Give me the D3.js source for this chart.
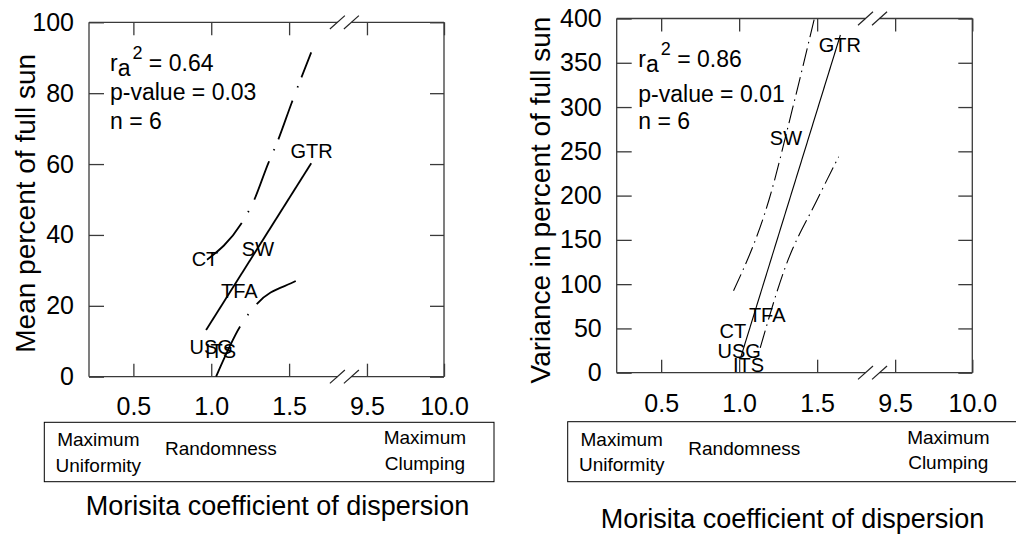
<!DOCTYPE html>
<html><head><meta charset="utf-8">
<script src="https://cdn.jsdelivr.net/npm/d3@7"></script>
<style>
body{margin:0;background:#fff}
svg{display:block}
text{font-family:"Liberation Sans",Arial,Helvetica,sans-serif;fill:#000}
</style>
</head><body>
<svg id="chart" width="1016" height="538"></svg>
<script>
// ---------------- data ----------------
const sites    = ["CT", "USG", "ITS", "TFA", "SW", "GTR"];
const morisita = [0.96, 1.00, 1.06, 1.18, 1.30, 1.645];
const meanSun  = [33.2, 8.5, 7.3, 24.2, 36.0, 63.7];
const varSun   = [47.3, 24.7, 9.0, 65.7, 265, 370.6];

const xTickValues = [0.5, 1.0, 1.5, 9.5, 10.0];
const xTickLabels = ["0.5", "1.0", "1.5", "9.5", "10.0"];
const meanTicks = [0, 20, 40, 60, 80, 100];
const varTicks  = [0, 50, 100, 150, 200, 250, 300, 350, 400];

// regression line and confidence bands
const meanFitX   = [0.967, 1.642];
const meanFitY   = [13.2, 60.2];
const meanUpperX = [0.973, 1.19, 1.271, 1.366, 1.425, 1.515, 1.642];
const meanUpperY = [33.0, 43.0, 49.4, 60.2, 66.3, 77.1, 91.5];
const meanLowerX = [1.031, 1.186, 1.292, 1.543, 1.61];
const meanLowerY = [0.0, 14.2, 20.5, 27.0, 28.5];

const varFitX   = [1.011, 1.649];
const varFitY   = [17.7, 381.4];
const varUpperX = [0.964, 1.191, 1.34, 1.485];
const varUpperY = [92.6, 195, 296.7, 402];
const varLowerX = [1.135, 1.297, 1.5, 1.638];
const varLowerY = [28.0, 119.7, 195.3, 243.9];

const meanStats = ["0.64", "0.03", "6"];
const varStats  = ["0.86", "0.01", "6"];

const yTitles = ["Mean percent of full sun", "Variance in percent of full sun"];
const xTitle = "Morisita coefficient of dispersion";
const boxLeftText  = ["Maximum", "Uniformity"];
const boxMidText   = "Randomness";
const boxRightText = ["Maximum", "Clumping"];

// ---------------- layout ----------------
const panels = [
  {L: 89, T: 22.3, R: 444, B: 376.7, yMax: 100, yTicks: meanTicks, yVals: meanSun,
   fit: [meanFitX, meanFitY], up: [meanUpperX, meanUpperY], lo: [meanLowerX, meanLowerY],
   stats: meanStats, statsX: 110, statsY: [71, 100, 129],
   yTitleX: 35, yTitleY: 203.3, xTitleX: 277.5, xTitleY: 515,
   box: {x: 44.3, y: 422.3, w: 449.7, h: 59.4}, tickPad: 21,
   lineW: 1.8, upDash: "51,12.5,1.5,12.5,41,12,1.5,10.5,41,14,1.5,9.5,41",
   loDash: "55.6,13.5,1.5,13,45.8,12,1.5,12,45", yTitle: yTitles[0]},
  {L: 616.7, T: 18.5, R: 972.3, B: 372.7, yMax: 400, yTicks: varTicks, yVals: varSun,
   fit: [varFitX, varFitY], up: [varUpperX, varUpperY], lo: [varLowerX, varLowerY],
   stats: varStats, statsX: 638.3, statsY: [66.5, 101.5, 128.5],
   yTitleX: 550, yTitleY: 200, xTitleX: 792.5, xTitleY: 528,
   box: {x: 567.7, y: 421.7, w: 450, h: 60}, tickPad: 21.5,
   lineW: 1.1, upDash: "18,5,1.5,5", loDash: "18,5,1.5,5", yTitle: yTitles[1]}
];

const svg = d3.select("#chart");
const frameColor = "#3a3a3a";

panels.forEach((p, i) => {
  const W = p.R - p.L;
  // broken axis: 0.215..2.0 linear, then 9.5..10.0 after the break
  const x = d3.scaleLinear()
    .domain([0.215, 2.0, 9.5, 10.0])
    .range([p.L, p.L + W * 0.783, p.L + W * 0.783, p.R]);
  const y = d3.scaleLinear().domain([0, p.yMax]).range([p.B, p.T]);

  const g = svg.append("g");

  const clipId = "clip" + i;
  svg.append("clipPath").attr("id", clipId)
    .append("rect").attr("x", p.L).attr("y", p.T).attr("width", W).attr("height", p.B - p.T);

  const left = g.append("g").attr("transform", `translate(${p.L},0)`)
    .call(d3.axisLeft(y).tickValues(p.yTicks).tickSizeInner(-15).tickSizeOuter(0).tickPadding(15));
  const right = g.append("g").attr("transform", `translate(${p.R},0)`)
    .call(d3.axisRight(y).tickValues(p.yTicks).tickSizeInner(-14).tickSizeOuter(0).tickFormat(""));
  const bottom = g.append("g").attr("transform", `translate(0,${p.B})`)
    .call(d3.axisBottom(x).tickValues(xTickValues).tickSizeInner(-13).tickSizeOuter(0).tickPadding(p.tickPad)
      .tickFormat((d, k) => xTickLabels[k]));
  const top = g.append("g").attr("transform", `translate(0,${p.T})`)
    .call(d3.axisTop(x).tickValues(xTickValues).tickSizeInner(-13).tickSizeOuter(0).tickFormat(""));
  [left, right, bottom, top].forEach(a => {
    a.select(".domain").remove();
    a.selectAll("line").attr("stroke", frameColor).attr("stroke-width", 1.3);
    a.selectAll("text").style("font-size", "25px").attr("fill", "#000");
  });

  // frame with broken x-axis
  const gapA = x(1.5) + 0.62 * (x(9.5) - x(1.5));
  const gapB = x(1.5) + 0.80 * (x(9.5) - x(1.5));
  const seg = (x1, y1, x2, y2, c, w) => g.append("line")
    .attr("x1", x1).attr("y1", y1).attr("x2", x2).attr("y2", y2)
    .attr("stroke", c).attr("stroke-width", w);
  seg(p.L, p.T, p.L, p.B, frameColor, 1.3);
  seg(p.R, p.T, p.R, p.B, frameColor, 1.3);
  [p.T, p.B].forEach(yy => {
    seg(p.L, yy, gapA, yy, frameColor, 1.3);
    seg(gapB, yy, p.R, yy, frameColor, 1.3);
    [gapA, gapB].forEach(bx => seg(bx - 7.5, yy + 6.7, bx + 7.5, yy - 6.7, "#222", 1.2));
  });

  // regression and confidence bands
  const lineGen = d3.line().x(d => x(d[0])).y(d => y(d[1])).curve(d3.curveMonotoneX);
  const lg = g.append("g").attr("clip-path", `url(#${clipId})`).attr("fill", "none").attr("stroke", "#000");
  lg.append("path").attr("d", lineGen(d3.zip(p.fit[0], p.fit[1]))).attr("stroke-width", p.lineW);
  lg.append("path").attr("d", lineGen(d3.zip(p.up[0], p.up[1]))).attr("stroke-width", p.lineW)
    .attr("stroke-dasharray", p.upDash);
  lg.append("path").attr("d", lineGen(d3.zip(p.lo[0], p.lo[1]))).attr("stroke-width", p.lineW)
    .attr("stroke-dasharray", p.loDash);

  // site labels
  g.append("g").selectAll("text").data(sites).join("text")
    .attr("x", (d, k) => x(morisita[k]))
    .attr("y", (d, k) => y(p.yVals[k]))
    .attr("dy", "0.36em")
    .attr("text-anchor", "middle")
    .style("font-size", "20px")
    .text(d => d);

  // statistics
  const st = g.append("text").attr("x", p.statsX).attr("y", p.statsY[0]).style("font-size", "23px");
  st.append("tspan").text("r");
  st.append("tspan").attr("dy", 5).text("a");
  st.append("tspan").attr("dy", -17).attr("dx", 2).style("font-size", "18px").text("2");
  st.append("tspan").attr("dy", 12).text(" = " + p.stats[0]);
  g.append("text").attr("x", p.statsX).attr("y", p.statsY[1]).style("font-size", "23px")
    .text("p-value = " + p.stats[1]);
  g.append("text").attr("x", p.statsX).attr("y", p.statsY[2]).style("font-size", "23px")
    .text("n = " + p.stats[2]);

  // axis titles
  g.append("text")
    .attr("transform", `translate(${p.yTitleX},${p.yTitleY}) rotate(-90)`)
    .attr("text-anchor", "middle").style("font-size", "28px").text(p.yTitle);
  g.append("text").attr("x", p.xTitleX).attr("y", p.xTitleY)
    .attr("text-anchor", "middle").style("font-size", "27px").text(xTitle);

  // dispersion box
  const b = p.box;
  g.append("rect").attr("x", b.x).attr("y", b.y).attr("width", b.w).attr("height", b.h)
    .attr("fill", "none").attr("stroke", "#000").attr("stroke-width", 1);
  const bt = (t, dx, dy) => g.append("text").attr("x", b.x + dx).attr("y", b.y + dy)
    .attr("text-anchor", "middle").style("font-size", "19px").text(t);
  bt(boxLeftText[0], 54, 24);
  bt(boxLeftText[1], 54, 49.5);
  bt(boxMidText, 176.6, 33);
  bt(boxRightText[0], 380.6, 22);
  bt(boxRightText[1], 380.6, 47.5);
});
</script>
</body></html>
